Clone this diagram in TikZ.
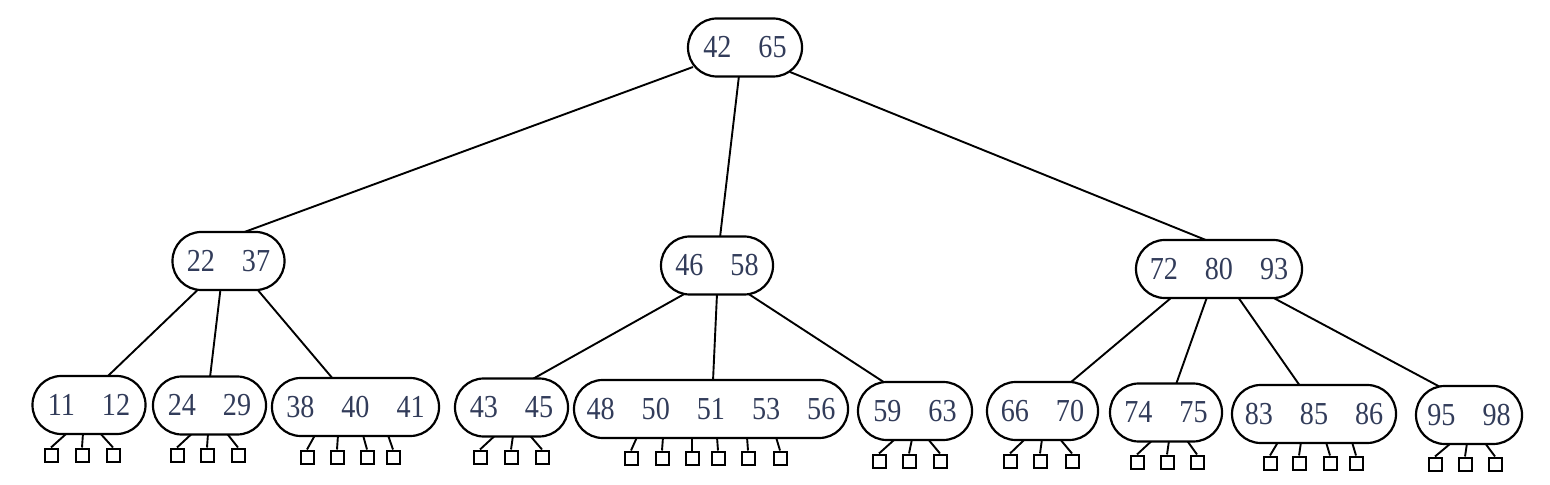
\documentclass[tikz,border=0pt]{standalone}
\usepackage{fontspec}
\setmainfont{Liberation Serif}
\newfontfamily\numfont[FakeStretch=0.88]{Liberation Serif}
\usetikzlibrary{calc,backgrounds}
\definecolor{numcol}{RGB}{50,60,90}
\newcommand\kgap{\hspace{13.5pt}}
\tikzset{
  keybox/.style={draw, line width=1.1pt, fill=white, rounded corners=14.4pt,
    minimum height=29pt, inner sep=0pt, text=numcol,
    font=\numfont\fontsize{16}{18}\selectfont},
  leafsq/.style={draw, line width=1pt, fill=white, minimum size=6.5pt, inner sep=0pt},
  edge/.style={draw, line width=0.95pt}
}
\begin{document}
\begin{tikzpicture}[x=0.5pt, y=-0.5pt]
\useasboundingbox (0,0) rectangle (1550,485);
% internal nodes
\node[keybox, minimum width=57pt] (root) at (745,47.5) {42\kgap 65};
\node[keybox, minimum width=56pt] (A) at (228.5,261) {22\kgap 37};
\node[keybox, minimum width=56pt] (B) at (717,265.5) {46\kgap 58};
\node[keybox, minimum width=83pt] (C) at (1219,269) {72\kgap 80\kgap 93};
% leaf-level nodes
\node[keybox, minimum width=56.5pt] (l1) at (89,405) {11\kgap 12};
\node[keybox, minimum width=56.5pt] (l2) at (209.5,405.5) {24\kgap 29};
\node[keybox, minimum width=83.5pt] (l3) at (355.5,407) {38\kgap 40\kgap 41};
\node[keybox, minimum width=56.5pt] (l4) at (511.5,407.5) {43\kgap 45};
\node[keybox, minimum width=137pt] (l5) at (711,409) {48\kgap 50\kgap 51\kgap 53\kgap 56};
\node[keybox, minimum width=57pt] (l6) at (915,411) {59\kgap 63};
\node[keybox, minimum width=55.5pt] (l7) at (1042.5,411) {66\kgap 70};
\node[keybox, minimum width=56pt] (l8) at (1166,412.5) {74\kgap 75};
\node[keybox, minimum width=82pt] (l9) at (1314,414) {83\kgap 85\kgap 86};
\node[keybox, minimum width=53pt] (l10) at (1469,415) {95\kgap 98};
% external squares and their connectors
\foreach \n/\cx/\sy/\pairs in {
  l1/89/455/{67/51,83/82,100/113},
  l2/209.5/455/{192/177,208/207,227/238},
  l3/355.5/457/{315/307,338/337,363/367,388/393},
  l4/511.5/457/{495/480,513/511,530/542},
  l5/711/458/{637/631,663/662,692/692,717/718,747/748,776/780},
  l6/915/461/{895/879,912/909,928/940},
  l7/1042.5/461/{1025/1010,1042/1040,1060/1072},
  l8/1166/462/{1152/1137,1169/1167,1187/1197},
  l9/1314/463/{1278/1270,1301/1299,1326/1330,1352/1356},
  l10/1469/464/{1451/1435,1467/1465,1485/1495}} {
  \foreach \t/\s [count=\i] in \pairs {
    \node[leafsq] (\n s\i) at (\s,\sy) {};
    \begin{pgfonlayer}{background}
      \draw[edge] ($(\n.south)+({\t-\cx},-2)$) -- (\n s\i.north);
    \end{pgfonlayer}
  }
}
% tree edges
\begin{pgfonlayer}{background}
\draw[edge] ($(root.center)+(-52,19.5)$) -- ($(A.north)+(13.5,2)$);
\draw[edge] ($(root.south)+(-6,-2)$) -- ($(B.north)+(3,2)$);
\draw[edge] ($(root.center)+(45,24.5)$) -- ($(C.north)+(-11,2)$);
\draw[edge] ($(A.south)+(-30,-2)$) -- ($(l1.north)+(18,2)$);
\draw[edge] ($(A.south)+(-8,-2)$) -- ($(l2.north)+(0.5,2)$);
\draw[edge] ($(A.south)+(28.5,-2)$) -- ($(l3.north)+(-22.5,2)$);
\draw[edge] ($(B.south)+(-32,-2)$) -- ($(l4.north)+(20.5,2)$);
\draw[edge] ($(B.south)+(0,-2)$) -- ($(l5.north)+(2,2)$);
\draw[edge] ($(B.south)+(31,-2)$) -- ($(l6.north)+(-30,2)$);
\draw[edge] ($(C.south)+(-47,-2)$) -- ($(l7.north)+(27.5,2)$);
\draw[edge] ($(C.south)+(-12,-2)$) -- ($(l8.north)+(10,2)$);
\draw[edge] ($(C.south)+(19,-2)$) -- ($(l9.north)+(-14,2)$);
\draw[edge] ($(C.south)+(53,-2)$) -- ($(l10.north)+(-29,2)$);
\end{pgfonlayer}
\end{tikzpicture}
\end{document}
